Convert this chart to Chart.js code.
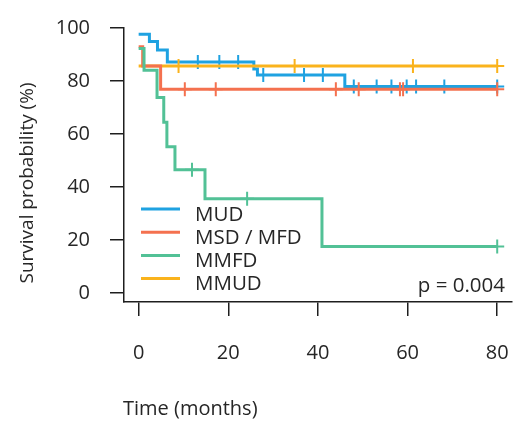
<!DOCTYPE html>
<html>
<head>
<meta charset="utf-8">
<script src="https://cdn.jsdelivr.net/npm/chart.js@4"></script>
<style>
  html, body { margin: 0; padding: 0; background: #fff; }
  canvas { display: block; }
</style>
</head>
<body>
<canvas id="km" width="521" height="423"></canvas>
<script>
// Kaplan-Meier curves
// step times (months) and survival (%) after each step
const mudTimes  = [0, 2.4, 4.2, 6.4, 25.7, 26.5, 46, 80];
const mudSurv   = [97.6, 94.9, 91.7, 87.2, 84.5, 82.3, 77.9, 77.9];
const mudCens   = [13.2, 18, 22.2, 27.8, 36.9, 41.1, 48, 53.1, 56.4, 59.8, 61.9, 68.2, 80];

const msdTimes  = [0, 0.9, 4.9, 80];
const msdSurv   = [92.9, 85.7, 76.9, 76.9];
const msdCens   = [10.3, 17.2, 44, 49.1, 58.3, 59, 80];

const mmfdTimes = [0, 1.2, 4.1, 5.6, 6.3, 8.1, 14.8, 40.9, 80];
const mmfdSurv  = [92.3, 84.1, 73.8, 64.4, 55.2, 46.5, 35.6, 17.5, 17.5];
const mmfdCens  = [11.9, 24.2, 80];

const mmudTimes = [0, 80];
const mmudSurv  = [85.7, 85.7];
const mmudCens  = [8.9, 34.8, 61.2, 80];

const xTicks = [0, 20, 40, 60, 80];
const yTicks = [0, 20, 40, 60, 80, 100];

const groups = ['MUD', 'MSD / MFD', 'MMFD', 'MMUD'];
const colors = ['#1fa2e1', '#f4714f', '#52c196', '#fab31c'];
const pText = 'p = 0.004';

const TXT = '#262626';
const AXIS = '#1e1e1e';
const FONT = '"Open Sans", "DejaVu Sans", sans-serif';

function survAt(times, surv, t) {
    let v = surv[0];
    for (let i = 0; i < times.length; i++) {
        if (times[i] <= t) v = surv[i];
    }
    return v;
}

function curve(times, surv, color) {
    return {
        type: 'line',
        data: times.map((t, i) => ({ x: t, y: surv[i] })),
        borderColor: color,
        borderWidth: 3,
        stepped: true,
        pointRadius: 0,
        fill: false,
        clip: false
    };
}

function censor(times, surv, cens, color) {
    return {
        type: 'scatter',
        data: cens.map(t => ({ x: t, y: survAt(times, surv, t) })),
        pointStyle: 'cross',
        pointRadius: 7,
        pointBorderWidth: 2,
        borderColor: color,
        backgroundColor: color,
        showLine: false,
        clip: false
    };
}

// legend + p value + axis titles drawn on top
const annotations = {
    id: 'annotations',
    afterDraw(chart) {
        const ctx = chart.ctx;
        ctx.save();
        const baselines = [220.5, 243.7, 266.9, 290.1];
        groups.forEach((g, i) => {
            ctx.strokeStyle = colors[i];
            ctx.lineWidth = 3;
            ctx.beginPath();
            ctx.moveTo(141, baselines[i] - 11.5);
            ctx.lineTo(180, baselines[i] - 11.5);
            ctx.stroke();
            ctx.fillStyle = TXT;
            ctx.font = '20.5px ' + FONT;
            ctx.textAlign = 'left';
            ctx.textBaseline = 'alphabetic';
            ctx.fillText(g, 195, baselines[i]);
        });

        ctx.font = '20.5px ' + FONT;
        ctx.textAlign = 'right';
        ctx.fillText(pText, 505, 292);

        ctx.textAlign = 'left';
        ctx.font = '20px ' + FONT;
        ctx.fillText('Time (months)', 123, 415);

        ctx.translate(28, 183);
        ctx.rotate(-Math.PI / 2);
        ctx.textAlign = 'center';
        ctx.textBaseline = 'middle';
        ctx.font = '19px ' + FONT;
        ctx.fillText('Survival probability (%)', 0, 0);
        ctx.restore();
    }
};

new Chart(document.getElementById('km').getContext('2d'), {
    data: {
        datasets: [
            curve(mmfdTimes, mmfdSurv, colors[2]),
            censor(mmfdTimes, mmfdSurv, mmfdCens, colors[2]),
            curve(msdTimes, msdSurv, colors[1]),
            censor(msdTimes, msdSurv, msdCens, colors[1]),
            curve(mmudTimes, mmudSurv, colors[3]),
            censor(mmudTimes, mmudSurv, mmudCens, colors[3]),
            curve(mudTimes, mudSurv, colors[0]),
            censor(mudTimes, mudSurv, mudCens, colors[0])
        ]
    },
    options: {
        responsive: false,
        animation: false,
        layout: { padding: { top: 28, right: 0, left: 0, bottom: 0 } },
        plugins: {
            legend: { display: false },
            tooltip: { enabled: false }
        },
        scales: {
            x: {
                type: 'linear',
                min: -3.27,
                max: 83.3,
                afterBuildTicks: s => { s.ticks = xTicks.map(v => ({ value: v })); },
                afterFit: s => { s.height = 121; s.paddingLeft = 0; s.paddingRight = 0; },
                border: { display: true, color: AXIS, width: 1.5 },
                grid: { drawOnChartArea: false, drawTicks: true, tickLength: 14, color: AXIS, lineWidth: 1.5 },
                ticks: { color: TXT, padding: 25, font: { family: FONT, size: 20 } }
            },
            y: {
                type: 'linear',
                min: -3.4,
                max: 100,
                afterBuildTicks: s => { s.ticks = yTicks.map(v => ({ value: v })); },
                afterFit: s => { s.width = 124; s.paddingTop = 0; s.paddingBottom = 0; },
                border: { display: true, color: AXIS, width: 1.5 },
                grid: { drawOnChartArea: false, drawTicks: true, tickLength: 14, color: AXIS, lineWidth: 1.5 },
                ticks: { color: TXT, padding: 20, font: { family: FONT, size: 20 } }
            }
        }
    },
    plugins: [annotations]
});
</script>
</body>
</html>
